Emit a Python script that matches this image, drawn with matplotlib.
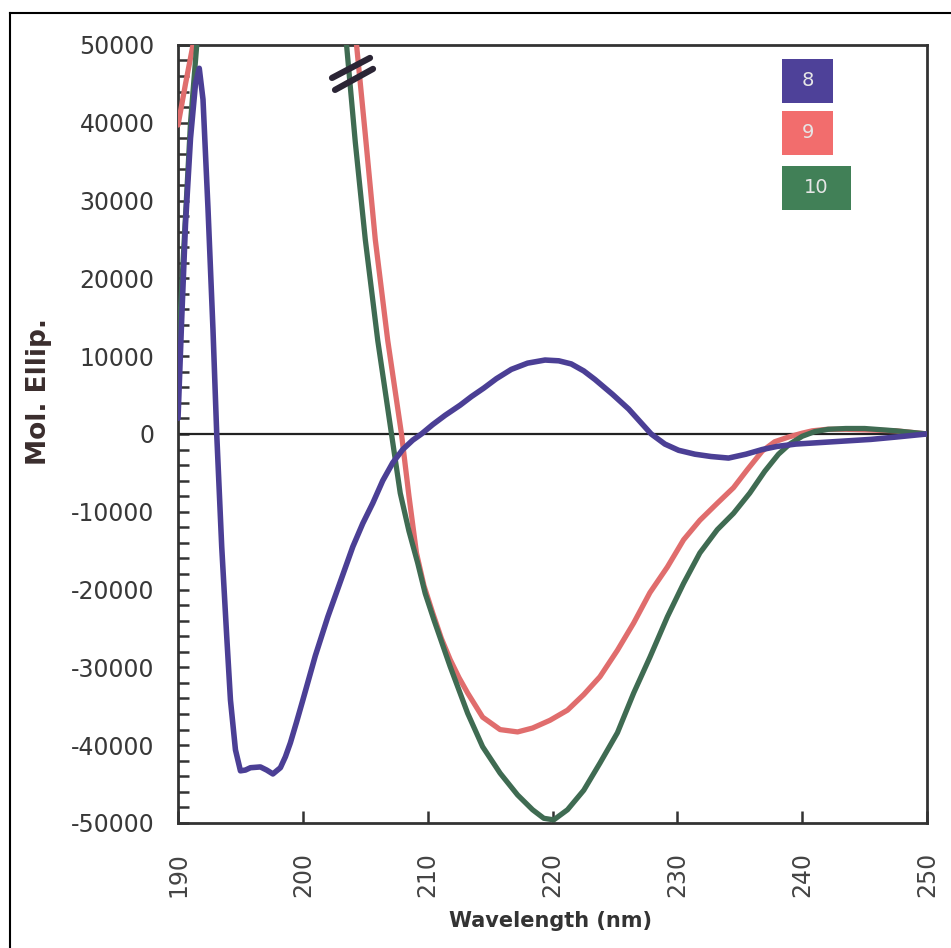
import numpy as np
import matplotlib
matplotlib.use("Agg")
import matplotlib.pyplot as plt
from matplotlib.patches import Rectangle
from matplotlib.lines import Line2D

# CD spectra (values above 50000 are off scale)
wl8 = [190.0, 190.3, 190.6, 191.0, 191.4, 191.7, 192.0, 192.4, 192.8, 193.1,
       193.5, 193.9, 194.2, 194.6, 195.0, 195.4, 195.8, 196.6, 197.1, 197.6,
       198.2, 198.6, 199.0, 199.5, 200.0, 201.0, 202.0, 203.0, 204.0, 204.8,
       205.6, 206.4, 207.2, 208.0, 208.8, 209.5, 210.4, 211.4, 212.6, 213.5,
       214.5, 215.5, 216.7, 218.0, 219.4, 220.5, 221.5, 222.5, 223.4, 224.8,
       226.1, 227.0, 227.9, 229.0, 230.1, 231.4, 232.7, 234.1, 235.5, 236.8,
       238.0, 239.5, 241.5, 243.5, 245.5, 247.5, 250.0]
cd8 = [2000, 15000, 27000, 38000, 45000, 47000, 43000, 29000, 13400, 0,
       -14500, -26000, -34200, -40600, -43300, -43200, -42900, -42800, -43200, -43700,
       -42900, -41500, -39700, -37000, -34200, -28500, -23500, -19000, -14500, -11500,
       -8900, -6000, -3700, -2000, -800, 0, 1200, 2400, 3700, 4800,
       5900, 7100, 8300, 9100, 9500, 9400, 9000, 8100, 7000, 5100,
       3200, 1600, 0, -1300, -2100, -2600, -2900, -3100, -2600, -2000,
       -1600, -1300, -1100, -900, -700, -400, 0]

wl9 = [190.0, 190.6, 191.2, 191.8, 203.6, 204.3, 205.0, 205.8, 206.8, 207.9,
       208.5, 209.1, 209.7, 210.4, 211.1, 211.8, 212.5, 213.2, 214.4, 215.8,
       217.2, 218.4, 219.8, 221.2, 222.5, 223.8, 225.2, 226.5, 227.8, 229.2,
       230.5, 231.8, 233.2, 234.5, 235.6, 236.8, 237.8, 238.9, 240.0, 240.8,
       242.0, 243.5, 245.5, 247.5, 250.0]
cd9 = [39700, 45000, 50000, 58000, 58000, 50000, 38500, 25000, 12000, 0,
       -8000, -15300, -19500, -23000, -26300, -29000, -31300, -33300, -36400, -38000,
       -38300, -37800, -36800, -35500, -33500, -31200, -27800, -24300, -20400, -17100,
       -13600, -11100, -8900, -6900, -4600, -2200, -1000, -400, 100, 400,
       600, 600, 500, 400, 0]

wl10 = [190.0, 190.5, 191.0, 191.5, 192.0, 202.8, 203.5, 204.2, 205.0, 206.0,
        207.1, 207.8, 208.5, 209.2, 209.8, 210.5, 211.8, 213.2, 214.4, 215.8,
        217.2, 218.4, 219.3, 220.1, 221.2, 222.5, 223.8, 225.2, 226.5, 227.8,
        229.2, 230.5, 231.8, 233.2, 234.5, 235.8, 237.0, 238.1, 239.0, 240.0,
        241.0, 242.1, 243.5, 245.0, 247.5, 250.0]
cd10 = [10000, 25000, 40000, 50000, 58000, 58000, 50000, 37500, 25000, 12000,
        0, -7600, -12500, -16600, -20500, -23900, -29900, -35900, -40200, -43600,
        -46400, -48300, -49400, -49600, -48300, -45800, -42300, -38400, -33300, -28700,
        -23500, -19200, -15300, -12300, -10200, -7600, -4800, -2600, -1300, -300,
        300, 600, 700, 700, 400, 0]

names = ["8", "9", "10"]
colors = ["#4b3f95", "#e06d6d", "#3f6b52"]
box_colors = ["#4e4199", "#f26d6d", "#418057"]

xticks = [190, 200, 210, 220, 230, 240, 250]
yticks = [50000, 40000, 30000, 20000, 10000, 0, -10000, -20000, -30000, -40000, -50000]

fig = plt.figure(figsize=(9.51, 9.48), dpi=100)
ax = fig.add_axes([0.1872, 0.1319, 0.7876, 0.8207])

ax.plot(wl9, cd9, color=colors[1], lw=3.8, solid_capstyle="round", solid_joinstyle="round", zorder=3)
ax.plot(wl10, cd10, color=colors[2], lw=3.8, solid_capstyle="round", solid_joinstyle="round", zorder=4)
ax.plot(wl8, cd8, color=colors[0], lw=4.0, solid_capstyle="round", solid_joinstyle="round", zorder=5)
ax.axhline(0, color="#222222", lw=1.6, zorder=2)

ax.set_xlim(190, 250)
ax.set_ylim(-50000, 50000)
ax.set_xticks(xticks)
ax.set_xticklabels([str(t) for t in xticks], rotation=90)
ax.set_yticks(yticks)
ax.set_yticklabels([str(t) for t in yticks])
ax.set_yticks(np.arange(-50000, 50001, 2000), minor=True)

ax.tick_params(axis="x", direction="in", length=9, width=1.8, pad=21,
               labelsize=17, labelcolor="#444444", color="#333333")
ax.tick_params(axis="y", which="both", direction="in", length=8, width=1.8,
               pad=17, labelsize=17, labelcolor="#383838", color="#333333")
for s in ax.spines.values():
    s.set_color("#333333")
    s.set_linewidth(2)

ax.set_xlabel("Wavelength (nm)", fontsize=15, fontweight="bold", color="#333333")
ax.xaxis.set_label_coords(0.497, -0.113)
ax.set_ylabel("Mol. Ellip.", fontsize=19, fontweight="bold", color="#3a2d2d")
ax.yaxis.set_label_coords(-0.168, 0.555)

# axis break marks on the off-scale peak
for (x0, y0, x1, y1) in [(0.2056, 0.9576, 0.2563, 0.9833),
                         (0.2096, 0.9422, 0.2603, 0.9692)]:
    ax.add_line(Line2D([x0, x1], [y0, y1], transform=ax.transAxes,
                       color="#2b2535", lw=4.5, solid_capstyle="round",
                       zorder=6, clip_on=False))

# colour key boxes
boxes = [(0.8064, 0.9254, 0.0681, 0.0566),
         (0.8064, 0.8586, 0.0681, 0.0566),
         (0.8064, 0.7879, 0.0921, 0.0566)]
for (bx, by, bw, bh), c, n in zip(boxes, box_colors, names):
    ax.add_patch(Rectangle((bx, by), bw, bh, transform=ax.transAxes,
                           facecolor=c, edgecolor="none", zorder=7))
    ax.text(bx + bw / 2, by + bh / 2, n, transform=ax.transAxes,
            ha="center", va="center", fontsize=14, color="#e6e6e6", zorder=8)

# border of the scanned figure
fig.add_artist(Line2D([10 / 951, 10 / 951], [0, 1 - 13 / 948], color="black", lw=1.5))
fig.add_artist(Line2D([10 / 951, 1], [1 - 13 / 948, 1 - 13 / 948], color="black", lw=1.5))

fig.savefig("out.png", dpi=100)
